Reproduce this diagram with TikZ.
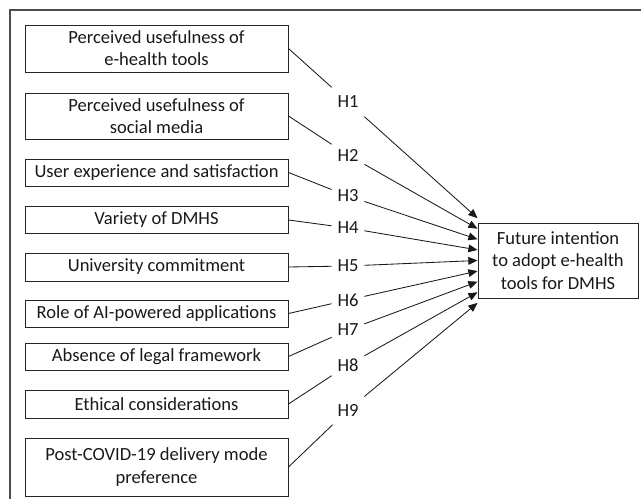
\documentclass[tikz,border=0pt]{standalone}
\usepackage{fontspec}
\setmainfont{Carlito}
\usetikzlibrary{arrows.meta,calc}
\begin{document}
\begin{tikzpicture}[x=0.025cm,y=-0.025cm,
	factor/.style={draw=black!85, line width=0.7pt, text=black!90, minimum width=263*0.025cm, align=center, font=\fontsize{13.2}{15.8}\selectfont},
	hyp/.style={inner xsep=4pt, inner ysep=6pt, text=black!90, font=\fontsize{13.2}{15}\selectfont},
	link/.style={black!90, line width=0.6pt}]
	\useasboundingbox (0,0) rectangle (641,499);
	\clip (0,0) rectangle (641,499);
	\draw[black!70, line width=0.8pt] (10,10) rectangle (680,540);
	\node (F1) at (156.5, 48.5)	[factor, minimum height=47*0.025cm]	{Perceived usefulness of\\e-health tools};
	\node (F2) at (156.5,116)	[factor, minimum height=46*0.025cm]	{Perceived usefulness of\\social media};
	\node (F3) at (156.5,172.5)	[factor, minimum height=27*0.025cm]	{User experience and satisfaction};
	\node (F4) at (156.5,220)	[factor, minimum height=27*0.025cm]	{Variety of DMHS};
	\node (F5) at (156.5,267)	[factor, minimum height=28*0.025cm]	{University commitment};
	\node (F6) at (156.5,313.5)	[factor, minimum height=27*0.025cm]	{Role of AI-powered applications};
	\node (F7) at (156.5,356.5)	[factor, minimum height=27*0.025cm]	{Absence of legal framework};
	\node (F8) at (156.5,404)	[factor, minimum height=28*0.025cm]	{Ethical considerations};
	\node (F9) at (156.5,467)	[factor, minimum height=58*0.025cm]	{Post-COVID-19 delivery mode\\preference};
	\node (T) at (558,260.5)	[factor, minimum width=160*0.025cm, minimum height=75*0.025cm]	{Future intention\\to adopt e-health\\tools for DMHS};
	\node (H1) at (348,102)	[hyp]	{H1};
	\node (H2) at (348,155)	[hyp]	{H2};
	\node (H3) at (348,196)	[hyp]	{H3};
	\node (H4) at (348,228)	[hyp]	{H4};
	\node (H5) at (348,266)	[hyp]	{H5};
	\node (H6) at (348,300)	[hyp]	{H6};
	\node (H7) at (348,330)	[hyp]	{H7};
	\node (H8) at (348,365)	[hyp]	{H8};
	\node (H9) at (348,410)	[hyp]	{H9};
	\foreach \i in {1,...,9} {
		\coordinate (t\i) at ($(T.west)+(0,{(\i-5)*10.6})$);
		\draw[link] (F\i.east) -- (H\i);
		\draw[link, -{Triangle[length=6.5pt,width=5.5pt]}] (H\i) -- (t\i);
	}
\end{tikzpicture}
\end{document}
